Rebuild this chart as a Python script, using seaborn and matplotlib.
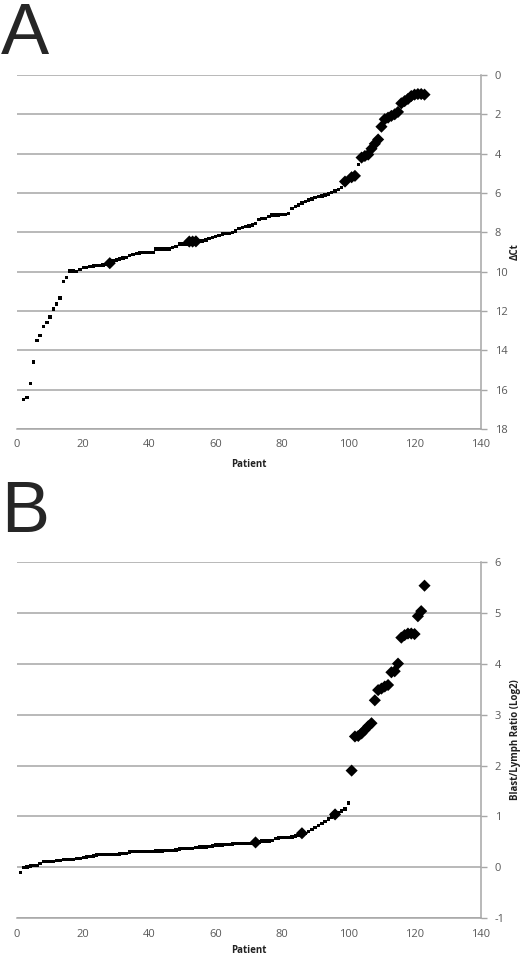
import pandas as pd
import matplotlib
matplotlib.use("Agg")
import matplotlib.pyplot as plt
import seaborn as sns

sns.set_style("white")
plt.rcParams["font.family"] = ["Open Sans", "DejaVu Sans"]
plt.rcParams["axes.unicode_minus"] = False

# Panel A: delta Ct per patient (patients 2..123)
a_patients = list(range(2, 124))
a_dct = [
    16.5, 16.4, 15.7, 14.6, 13.5, 13.25, 12.8, 12.6, 12.3, 11.9,
    11.65, 11.35, 10.5, 10.3, 9.96, 9.96, 10.0, 9.88, 9.8, 9.8,
    9.74, 9.72, 9.69, 9.69, 9.67, 9.62, 9.57, 9.46, 9.41, 9.35,
    9.3, 9.27, 9.18, 9.13, 9.08, 9.05, 9.02, 9.02, 9.02, 9.02,
    8.85, 8.85, 8.85, 8.85, 8.85, 8.76, 8.73, 8.59, 8.59, 8.59,
    8.47, 8.47, 8.46, 8.44, 8.44, 8.39, 8.3, 8.25, 8.22, 8.17,
    8.08, 8.05, 8.05, 8.0, 7.93, 7.8, 7.76, 7.71, 7.67, 7.63,
    7.54, 7.35, 7.29, 7.29, 7.2, 7.12, 7.12, 7.12, 7.1, 7.08,
    7.03, 6.78, 6.69, 6.61, 6.52, 6.44, 6.36, 6.3, 6.24, 6.19,
    6.15, 6.1, 6.05, 5.97, 5.9, 5.81, 5.73, 5.42, 5.29, 5.2,
    5.13, 4.54, 4.2, 4.12, 4.05, 3.75, 3.5, 3.28, 2.63, 2.25,
    2.17, 2.08, 2.0, 1.88, 1.44, 1.33, 1.22, 1.07, 1.0, 0.97,
    0.97, 1.0,
]
a_highlight = [28, 52, 53, 54, 99, 101, 102] + list(range(104, 124))

# Panel B: blast/lymph ratio (log2) per patient (patients 1..123)
b_patients = list(range(1, 124))
b_ratio = [
    -0.10, 0.0, 0.01, 0.03, 0.04, 0.04, 0.08, 0.11, 0.11, 0.12,
    0.12, 0.13, 0.13, 0.15, 0.16, 0.16, 0.16, 0.18, 0.18, 0.19,
    0.2, 0.21, 0.22, 0.24, 0.25, 0.25, 0.25, 0.25, 0.25, 0.25,
    0.26, 0.27, 0.27, 0.3, 0.31, 0.31, 0.31, 0.31, 0.31, 0.31,
    0.31, 0.32, 0.32, 0.32, 0.33, 0.33, 0.33, 0.34, 0.36, 0.37,
    0.37, 0.37, 0.37, 0.39, 0.4, 0.4, 0.4, 0.41, 0.42, 0.44,
    0.44, 0.44, 0.45, 0.45, 0.46, 0.47, 0.47, 0.47, 0.47, 0.47,
    0.47, 0.49, 0.5, 0.52, 0.52, 0.52, 0.53, 0.57, 0.58, 0.59,
    0.59, 0.59, 0.6, 0.62, 0.63, 0.67, 0.67, 0.7, 0.74, 0.78,
    0.82, 0.86, 0.9, 0.95, 0.99, 1.04, 1.07, 1.11, 1.15, 1.26,
    1.9, 2.57, 2.58, 2.63, 2.7, 2.77, 2.83, 3.28, 3.48, 3.51,
    3.55, 3.58, 3.83, 3.85, 4.0, 4.51, 4.56, 4.59, 4.59, 4.58,
    4.93, 5.03, 5.53,
]
b_highlight = [72, 86, 96] + list(range(101, 124))

df_a = pd.DataFrame({"Patient": a_patients, "val": a_dct})
df_a["big"] = df_a["Patient"].isin(a_highlight)
df_b = pd.DataFrame({"Patient": b_patients, "val": b_ratio})
df_b["big"] = df_b["Patient"].isin(b_highlight)

grid_col = "#a6a6a6"
tick_col = "#595959"

fig = plt.figure(figsize=(5.2, 9.55), dpi=100)
ax_a = fig.add_axes([0.0327, 0.5508, 0.892, 0.3707])
ax_b = fig.add_axes([0.0327, 0.0384, 0.892, 0.3734])


def draw_panel(ax, df, ylim, yticks, ylabel, xlab_y):
    sns.scatterplot(data=df[~df["big"]], x="Patient", y="val", marker="s",
                    s=6, color="black", edgecolor="none", ax=ax)
    sns.scatterplot(data=df[df["big"]], x="Patient", y="val", marker="D",
                    s=38, color="black", edgecolor="none", ax=ax)
    ax.set_xlim(0, 140)
    ax.set_ylim(*ylim)
    ax.set_xticks(range(0, 141, 20))
    ax.set_yticks(yticks)
    ax.yaxis.tick_right()
    ax.yaxis.set_label_position("right")
    ax.grid(axis="y", color=grid_col, linewidth=1.1)
    ax.set_axisbelow(True)
    for side in ["top", "left"]:
        ax.spines[side].set_visible(False)
    for side in ["bottom", "right"]:
        ax.spines[side].set_color(grid_col)
        ax.spines[side].set_linewidth(1.1)
    ax.tick_params(axis="both", direction="out", length=4, width=1,
                   color=grid_col, labelcolor=tick_col, labelsize=8)
    ax.tick_params(axis="y", pad=6)
    ax.set_xlabel("Patient", fontsize=7, fontweight="bold", color="#222222")
    ax.set_ylabel(ylabel, fontsize=7, fontweight="bold", color="#222222",
                  rotation=90)
    ax.xaxis.set_label_coords(0.5, xlab_y)
    ax.yaxis.set_label_coords(1.062, 0.5)


draw_panel(ax_a, df_a, (18, 0), range(0, 19, 2), "ΔCt", -0.085)
draw_panel(ax_b, df_b, (-1, 6), range(-1, 7), "Blast/Lymph Ratio (Log2)", -0.076)

fig.text(0.002, 0.998, "A", fontsize=52, family="Liberation Sans",
         ha="left", va="top")
fig.text(0.002, 0.497, "B", fontsize=52, family="Liberation Sans",
         ha="left", va="top")

fig.savefig("out.png", dpi=100)
